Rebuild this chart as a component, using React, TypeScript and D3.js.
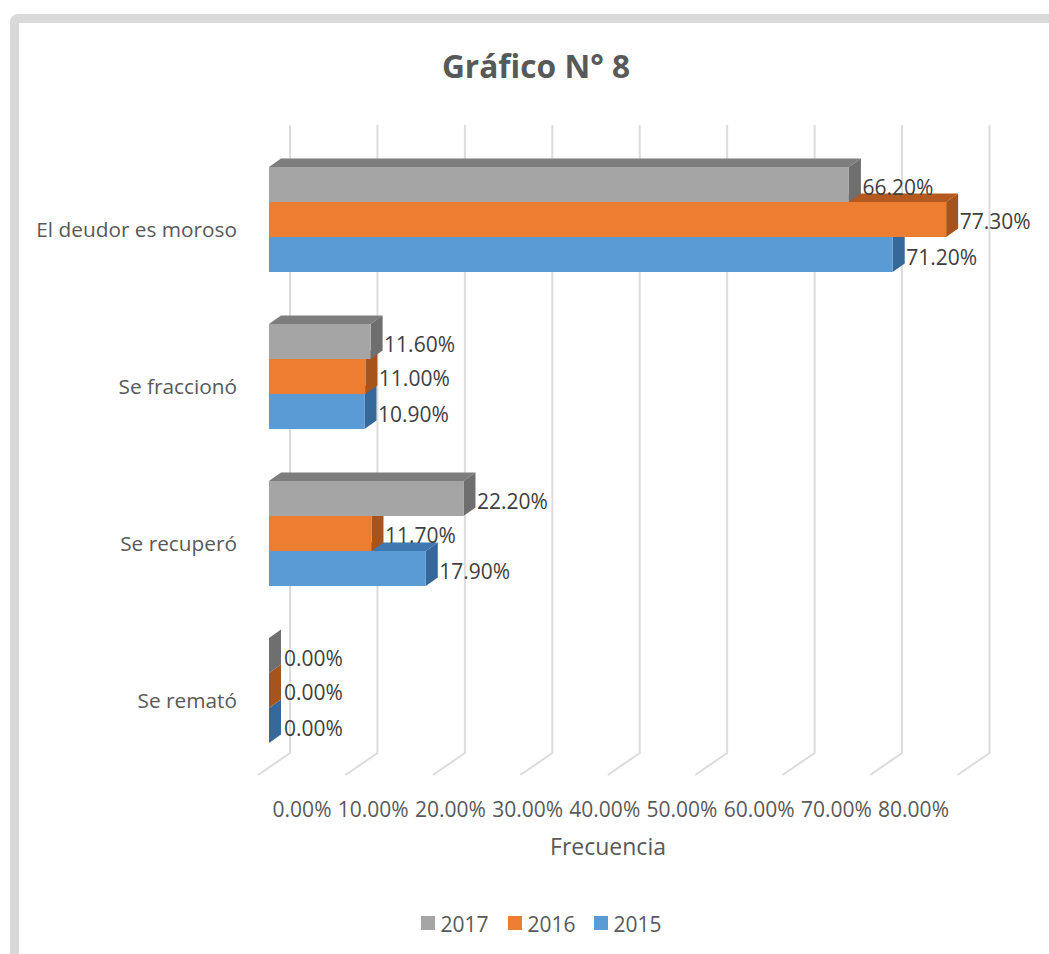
import React from "react";
import * as d3 from "d3";

const categories = ["El deudor es moroso", "Se fraccionó", "Se recuperó", "Se remató"];
const seriesNames = ["2017", "2016", "2015"];
const values2017 = [66.2, 11.6, 22.2, 0];
const values2016 = [77.3, 11.0, 11.7, 0];
const values2015 = [71.2, 10.9, 17.9, 0];
const axisTicks = [0, 10, 20, 30, 40, 50, 60, 70, 80];
const frontColors = ["#a5a5a5", "#ed7d31", "#5b9bd5"];
const topColors = ["#7d7d7d", "#b4591f", "#3f78b0"];
const sideColors = ["#6f6f6f", "#a4541c", "#36689a"];
const seriesValues = [values2017, values2016, values2015];

const FONT = "'Open Sans', 'Noto Sans', sans-serif";
const TEXT = "#595959";
const DX = 12;
const DY = 8.5;

const x = d3.scaleLinear().domain([0, 80]).range([269, 969.8]);
const gridX = d3.scaleLinear().domain([0, 80]).range([290, 989.5]);
const tickX = d3.scaleLinear().domain([0, 80]).range([331.5, 949]);
const y = d3.scaleBand<string>().domain(categories).range([141, 769]).paddingInner(0.3312).paddingOuter(0.1656);
const inner = d3.scaleBand<string>().domain(seriesNames).range([0, y.bandwidth()]);
const poly = d3.line<[number, number]>();

const legendX = d3.scaleOrdinal<string, number>().domain(seriesNames).range([421, 508, 594]);

function Bar({ cat, si, v }: { cat: string; si: number; v: number }) {
  const name = seriesNames[si];
  const x0 = x(0);
  const x1 = x(v);
  const y0 = (y(cat) as number) + (inner(name) as number);
  const y1 = y0 + inner.bandwidth();
  return (
    <g>
      {v > 0 && (
        <path
          d={poly([[x0, y0], [x0 + DX, y0 - DY], [x1 + DX, y0 - DY], [x1, y0]]) + "Z"}
          fill={topColors[si]}
        />
      )}
      <path
        d={poly([[x1, y0], [x1 + DX, y0 - DY], [x1 + DX, y1 - DY], [x1, y1]]) + "Z"}
        fill={sideColors[si]}
      />
      {v > 0 && <rect x={x0} y={y0} width={x1 - x0} height={y1 - y0} fill={frontColors[si]} />}
    </g>
  );
}

export default function App() {
  return (
    <svg
      width={1049}
      height={954}
      viewBox="0 0 1049 954"
      style={{ position: "absolute", left: 0, top: 0, display: "block", background: "#fff" }}
      fontFamily={FONT}
    >
      <path d="M1049 18.5H18.5Q14.5 18.5 14.5 22.5V954" fill="none" stroke="#d9d9d9" strokeWidth={9} />
      <text x={536} y={65} textAnchor="middle" dominantBaseline="central" fontSize={31.7} fontWeight={700} fill={TEXT}>
        Gráfico N° 8
      </text>

      {axisTicks.map((t) => (
        <path
          key={t}
          d={poly([[gridX(t), 125], [gridX(t), 753], [gridX(t) - 32, 775]]) as string}
          fill="none"
          stroke="#dcdcdc"
          strokeWidth={2}
        />
      ))}

      {categories.map((cat, ci) => (
        <g key={cat}>
          {[2, 1, 0].map((si) => (
            <Bar key={si} cat={cat} si={si} v={seriesValues[si][ci]} />
          ))}
        </g>
      ))}

      {categories.map((cat, ci) => (
        <g key={cat}>
          <text
            x={237}
            y={(y(cat) as number) + y.bandwidth() / 2 + 9}
            textAnchor="end"
            dominantBaseline="central"
            fontSize={20.8}
            fill={TEXT}
          >
            {cat}
          </text>
          {seriesNames.map((name, si) => {
            const v = seriesValues[si][ci];
            return (
              <text
                key={name}
                x={x(v) + DX + (v === 0 ? 3 : 1.5)}
                y={(y(cat) as number) + (inner(name) as number) + inner.bandwidth() / 2 + (si === 1 ? 1 : 2.5)}
                dominantBaseline="central"
                fontSize={21}
                fill="#404040"
              >
                {v.toFixed(2)}%
              </text>
            );
          })}
        </g>
      ))}

      {axisTicks.map((t) => (
        <text key={t} x={tickX(t)} y={809} textAnchor="end" dominantBaseline="central" fontSize={21} fill={TEXT}>
          {t.toFixed(2)}%
        </text>
      ))}

      <text x={608} y={846} textAnchor="middle" dominantBaseline="central" fontSize={23} fill={TEXT}>
        Frecuencia
      </text>

      {seriesNames.map((name, si) => (
        <g key={name}>
          <rect x={legendX(name)} y={916} width={14} height={14} fill={frontColors[si]} />
          <text x={legendX(name) + 19.5} y={923.5} dominantBaseline="central" fontSize={21} fill={TEXT}>
            {name}
          </text>
        </g>
      ))}
    </svg>
  );
}
